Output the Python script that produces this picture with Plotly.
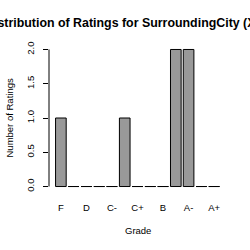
import plotly.graph_objects as go

grades = ["F", "D-", "D", "D+", "C-", "C", "C+", "B-", "B", "B+", "A-", "A", "A+"]
counts = [1, 0, 0, 0, 0, 1, 0, 0, 0, 2, 2, 0, 0]
shown_labels = ["F", "D", "C-", "C+", "B", "A-", "A+"]
y_ticks = [0, 0.5, 1.0, 1.5, 2.0]

title_text = "Distribution of Ratings for SurroundingCity (XYZ)"

xs = list(range(len(grades)))
bar_w = 1 / 1.2

fig = go.Figure()
fig.add_trace(go.Bar(
    x=xs, y=counts, width=bar_w,
    marker=dict(color="#999999", line=dict(color="black", width=1)),
    showlegend=False,
))
# zero-height bars drawn as flat border segments (like R barplot)
zx, zy = [], []
for i, c in enumerate(counts):
    if c == 0:
        zx += [i - bar_w / 2, i + bar_w / 2, None]
        zy += [0, 0, None]
fig.add_trace(go.Scatter(x=zx, y=zy, mode="lines",
                         line=dict(color="black", width=1), showlegend=False,
                         hoverinfo="skip"))

tickpos = [grades.index(g) for g in shown_labels]
fig.update_layout(
    width=250, height=250,
    margin=dict(l=48.5, r=24.4, t=44, b=57.5),
    paper_bgcolor="white", plot_bgcolor="white",
    font=dict(family="Liberation Sans, Arial, sans-serif", size=9.5, color="black"),
    xaxis=dict(range=[-0.93, 12.93], tickvals=tickpos, ticktext=shown_labels,
               showgrid=False, zeroline=False, showline=False, ticks="",
               ticklabelstandoff=8),
    yaxis=dict(range=[-0.08, 2.08], tickvals=y_ticks, tickformat=".1f",
               tickangle=-90, ticks="outside", ticklen=5, tickcolor="black",
               showgrid=False, zeroline=False, showline=False,
               ticklabelstandoff=5),
    shapes=[dict(type="line", xref="paper", yref="y", x0=0, x1=0,
                 y0=min(y_ticks), y1=max(y_ticks),
                 line=dict(color="black", width=1))],
    annotations=[
        dict(text="<b>" + title_text + "</b>", xref="paper", yref="paper",
             x=0.5, xshift=-7.5, y=1, yshift=21, xanchor="center",
             yanchor="middle", showarrow=False, font=dict(size=12.4)),
        dict(text="Grade", xref="paper", yref="paper", x=0.5, y=0,
             yshift=-38.5, xanchor="center", yanchor="middle", showarrow=False,
             font=dict(size=9.5)),
        dict(text="Number of Ratings", xref="paper", yref="paper", x=0,
             xshift=-40.5, y=0.5, textangle=-90, xanchor="center",
             yanchor="middle", showarrow=False, font=dict(size=9.5)),
    ],
)
fig.write_html("out.html")
